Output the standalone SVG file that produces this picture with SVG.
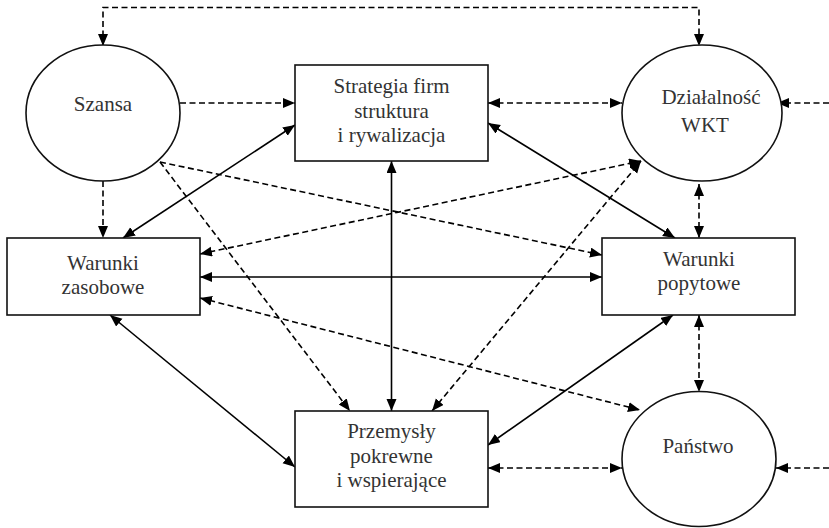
<svg xmlns="http://www.w3.org/2000/svg" width="829" height="528" viewBox="0 0 829 528">
<defs>
<marker id="ah" markerUnits="userSpaceOnUse" markerWidth="13" markerHeight="11" refX="12" refY="5" orient="auto-start-reverse">
<path d="M0,0 L12,5 L0,10 z" fill="#000"/>
</marker>
<style>
.node-shape{fill:#fff;stroke:#111;stroke-width:1.6}
.lbl{font-family:"Liberation Serif","Times New Roman",serif;font-size:21px;fill:#333;text-anchor:middle}
.c{fill:none;stroke:#000;stroke-width:1.6}
.d{stroke-dasharray:6 3.5}
.b{marker-start:url(#ah);marker-end:url(#ah)}
.e{marker-end:url(#ah)}
</style>
</defs>
<rect width="829" height="528" fill="#fff"/>
<g id="connectors">
<path class="c d b" d="M103,46 V7.5 H699 V46"/>
<path class="c d e" d="M180,103 H295"/>
<path class="c d b" d="M488,103 H622"/>
<path class="c d e" d="M829,103 H777"/>
<path class="c d e" d="M103,181 V238"/>
<path class="c b" d="M123,238 L295,125"/>
<path class="c b" d="M488,123 L675,238"/>
<path class="c d b" d="M699,184 V238"/>
<path class="c d e" d="M160,162 L602,255"/>
<path class="c d e" d="M160,162 L350,411"/>
<path class="c d b" d="M200,254 L641,161"/>
<path class="c d b" d="M432,411 L641,161"/>
<path class="c b" d="M200,277 H602"/>
<path class="c d b" d="M200,298 L640,410"/>
<path class="c b" d="M110,315 L295,467"/>
<path class="c b" d="M391.5,161 V411"/>
<path class="c b" d="M673,315 L488,445"/>
<path class="c d b" d="M699,315 V392"/>
<path class="c d b" d="M488,468 H622"/>
<path class="c d e" d="M829,468 H776"/>
</g>
<g id="szansa">
<ellipse class="node-shape" cx="103" cy="113" rx="77" ry="68"/>
<text class="lbl" x="103" y="111">Szansa</text>
</g>
<g id="strategia">
<rect class="node-shape" x="295" y="65" width="193" height="96"/>
<text class="lbl" x="391.5" y="93">Strategia firm</text>
<text class="lbl" x="391.5" y="118">struktura</text>
<text class="lbl" x="391.5" y="142">i rywalizacja</text>
</g>
<g id="dzialalnosc">
<ellipse class="node-shape" cx="702" cy="113" rx="80" ry="68"/>
<text class="lbl" x="711" y="104">Działalność</text>
<text class="lbl" x="705" y="132">WKT</text>
</g>
<g id="zasobowe">
<rect class="node-shape" x="7" y="238" width="193" height="77"/>
<text class="lbl" x="103" y="270">Warunki</text>
<text class="lbl" x="103" y="294">zasobowe</text>
</g>
<g id="popytowe">
<rect class="node-shape" x="602" y="238" width="193" height="77"/>
<text class="lbl" x="699" y="266">Warunki</text>
<text class="lbl" x="699" y="290">popytowe</text>
</g>
<g id="przemysly">
<rect class="node-shape" x="295" y="411" width="193" height="96"/>
<text class="lbl" x="391.5" y="438">Przemysły</text>
<text class="lbl" x="391.5" y="463">pokrewne</text>
<text class="lbl" x="391.5" y="487">i wspierające</text>
</g>
<g id="panstwo">
<ellipse class="node-shape" cx="699" cy="459" rx="77" ry="67.5"/>
<text class="lbl" x="698" y="453">Państwo</text>
</g>
</svg>
